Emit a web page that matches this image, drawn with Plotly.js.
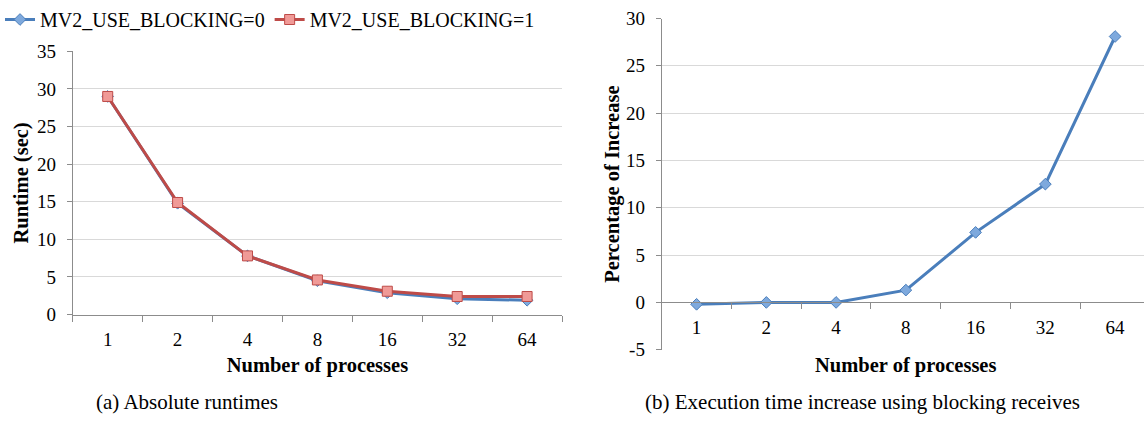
<!DOCTYPE html>
<html>
<head>
<meta charset="utf-8">
<script src="https://cdn.plot.ly/plotly-3.0.1.min.js"></script>
<style>
html,body{margin:0;padding:0;background:#fff;}
#chart{width:1144px;height:421px;}
</style>
</head>
<body>
<div id="chart"></div>
<script>
const processes = ['1', '2', '4', '8', '16', '32', '64'];
const runtimeBlocking0 = [29.0, 14.8, 7.8, 4.5, 2.9, 2.1, 1.9];
const runtimeBlocking1 = [29.0, 14.9, 7.8, 4.6, 3.1, 2.4, 2.4];
const percentIncrease = [-0.2, 0.0, 0.0, 1.3, 7.4, 12.5, 28.1];
const leftYTicks = [0, 5, 10, 15, 20, 25, 30, 35];
const rightYTicks = [-5, 0, 5, 10, 15, 20, 25, 30];
const rightYTickLabels = ['-5', '0', '5', '10', '15', '20', '25', '30'];

const serif = 'Liberation Serif';
const blueLine = '#4A7EBB';
const blueFill = '#7EA9DD';
const redLine = '#BE4B48';
const redFill = '#F09A97';
const gridCol = '#D9D9D9';
const axisCol = '#8C8C8C';

const traces = [
  {
    x: processes, y: runtimeBlocking0, name: 'MV2_USE_BLOCKING=0',
    type: 'scatter', mode: 'lines+markers', xaxis: 'x', yaxis: 'y',
    line: {color: blueLine, width: 3},
    marker: {symbol: 'diamond', size: 9, color: blueFill, line: {color: blueLine, width: 1}}
  },
  {
    x: processes, y: runtimeBlocking1, name: 'MV2_USE_BLOCKING=1',
    type: 'scatter', mode: 'lines+markers', xaxis: 'x', yaxis: 'y',
    line: {color: redLine, width: 3},
    marker: {symbol: 'square', size: 10, color: redFill, line: {color: redLine, width: 1}}
  },
  {
    x: processes, y: percentIncrease, name: 'Percentage of Increase',
    type: 'scatter', mode: 'lines+markers', xaxis: 'x2', yaxis: 'y2',
    showlegend: false,
    line: {color: blueLine, width: 3},
    marker: {symbol: 'diamond', size: 9, color: blueFill, line: {color: blueLine, width: 1}}
  }
];

const tickFont = {family: serif, size: 19, color: '#000'};
const titleFont = {family: serif, size: 20.5, color: '#000', weight: 'bold'};
const captionFont = {family: serif, size: 21, color: '#000'};

const layout = {
  width: 1144, height: 421,
  margin: {l: 0, r: 0, t: 0, b: 0},
  paper_bgcolor: '#fff', plot_bgcolor: '#fff',
  font: {family: serif, color: '#000'},
  showlegend: true,
  legend: {
    orientation: 'h', x: -0.0035, y: 1.015, xanchor: 'left', yanchor: 'top',
    font: {family: serif, size: 20, color: '#000'},
    itemwidth: 30, tracegroupgap: 0, bgcolor: 'rgba(0,0,0,0)'
  },
  xaxis: {
    type: 'category', domain: [69/1144, 560/1144], range: [-0.5, 6.5],
    anchor: 'y', showgrid: false, zeroline: false,
    showline: true, linecolor: axisCol, linewidth: 1,
    ticks: 'outside', tickson: 'boundaries', ticklen: 6, tickcolor: axisCol,
    tickfont: tickFont, ticklabelstandoff: 8,
    title: {text: '<b>Number of processes</b>', font: titleFont, standoff: 8}
  },
  yaxis: {
    domain: [(421-313)/421, (421-46)/421], range: [0, 35],
    anchor: 'x', tickvals: leftYTicks,
    showgrid: true, gridcolor: gridCol, gridwidth: 1, zeroline: false,
    showline: true, linecolor: axisCol, linewidth: 1,
    ticks: 'outside', ticklen: 5, tickcolor: axisCol,
    tickfont: tickFont, ticklabelstandoff: 7,
    title: {text: '<b>Runtime (sec)</b>', font: titleFont, standoff: 2}
  },
  xaxis2: {
    type: 'category', domain: [660/1144, 1], range: [-0.5, 6.414],
    anchor: 'free', position: (421-300.7)/421, showgrid: false, zeroline: false,
    showline: true, linecolor: axisCol, linewidth: 1,
    ticks: 'outside', tickson: 'boundaries', ticklen: 6, tickcolor: axisCol,
    tickfont: tickFont, ticklabelstandoff: 8
  },
  yaxis2: {
    domain: [(421-348.7)/421, (421-12.7)/421], range: [-5, 30],
    anchor: 'x2', tickvals: rightYTicks, ticktext: rightYTickLabels,
    showgrid: true, gridcolor: gridCol, gridwidth: 1, zeroline: false,
    showline: true, linecolor: axisCol, linewidth: 1,
    ticks: 'outside', ticklen: 5, tickcolor: axisCol,
    tickfont: tickFont, ticklabelstandoff: 7,
    title: {text: '<b>Percentage of Increase</b>', font: titleFont, standoff: 0}
  },
  annotations: [
    {text: '<b>Number of processes</b>', xref: 'paper', yref: 'paper',
     x: 905/1144, y: (421-365)/421, xanchor: 'center', yanchor: 'middle',
     showarrow: false, font: titleFont},
    {text: '(a) Absolute runtimes', xref: 'paper', yref: 'paper',
     x: 184/1144, y: (421-402)/421, xanchor: 'center', yanchor: 'middle',
     showarrow: false, font: captionFont},
    {text: '(b) Execution time increase using blocking receives', xref: 'paper', yref: 'paper',
     x: 862/1144, y: (421-402)/421, xanchor: 'center', yanchor: 'middle',
     showarrow: false, font: captionFont}
  ]
};

Plotly.newPlot('chart', traces, layout, {staticPlot: true, displayModeBar: false});
</script>
</body>
</html>
